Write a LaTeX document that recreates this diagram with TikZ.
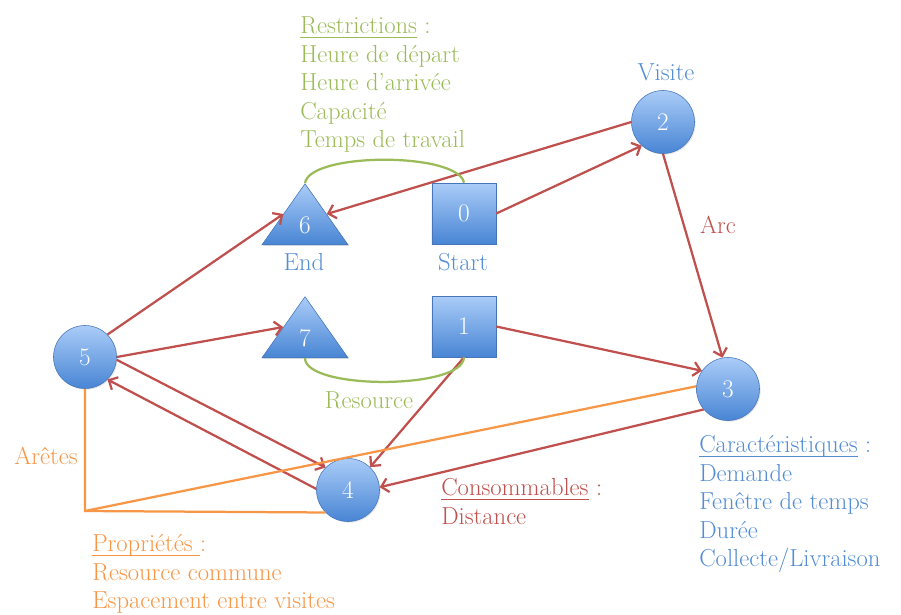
\documentclass[tikz,border=0pt]{standalone}
\usepackage{amsmath}
\usepackage{tikz}
\usetikzlibrary{shapes.geometric,arrows.meta,shadows}

\definecolor{vblue}{RGB}{84,141,212}
\definecolor{vred}{RGB}{192,80,77}
\definecolor{vgreen}{RGB}{155,187,89}
\definecolor{vorange}{RGB}{247,150,70}
\definecolor{ntop}{RGB}{170,204,248}
\definecolor{nbot}{RGB}{72,133,212}
\definecolor{nline}{RGB}{70,118,185}

\newcommand{\ulword}[1]{\underline{\smash{#1}}}

\begin{document}
\begin{tikzpicture}[x=0.025cm,y=-0.025cm,
  vertex/.style={circle,draw=nline,thin,top color=ntop,bottom color=nbot,minimum size=1.575cm,inner sep=0pt,text=white,font=\fontsize{18}{20}\selectfont,drop shadow={opacity=0.2,shadow xshift=0.8pt,shadow yshift=-0.8pt}},
  depot/.style={rectangle,draw=nline,thin,top color=ntop,bottom color=nbot,minimum width=1.6cm,minimum height=1.525cm,inner sep=0pt,text=white,font=\fontsize{18}{20}\selectfont,drop shadow={opacity=0.2,shadow xshift=0.8pt,shadow yshift=-0.8pt}},
  tri/.style={isosceles triangle,isosceles triangle stretches,shape border rotate=90,draw=nline,thin,top color=ntop,bottom color=nbot,minimum width=2.15cm,minimum height=1.525cm,inner sep=0pt,drop shadow={opacity=0.2,shadow xshift=0.8pt,shadow yshift=-0.8pt}},
  num/.style={text=white,inner sep=0pt,font=\fontsize{18}{20}\selectfont},
  arc/.style={vred,line width=1.6pt,-{Straight Barb[length=5pt,width=10pt]}},
  lbl/.style={inner sep=0pt,align=left,font=\fontsize{17.5}{20.2}\selectfont}]
\useasboundingbox (0,0) rectangle (901,614);

\node[vertex] (n2) at (663,122) {2};
\node[vertex] (n3) at (728,389) {3};
\node[vertex] (n5) at (85,357) {5};
\node[vertex] (n4) at (348,490) {4};
\node[depot] (n0) at (464,213.5) {0};
\node[depot] (n1) at (464,326.5) {1};
\node[tri,anchor=apex] (n6) at (305,183) {};
\node[tri,anchor=apex] (n7) at (305,296) {};
\node[num] (t6) at (305,225.5) {6};
\node[num] (t7) at (305,338.5) {7};

% arcs
\draw[arc] (n2.west) -- (n6.right side);
\draw[arc] (n0.east) -- (n2.228);
\draw[arc] (n2.south) -- (n3.100);
\draw[arc] (n1.east) -- (n3.145);
\draw[arc] (n3.220) -- (n4.5);
\draw[arc] (n1.south) -- (n4.46);
\draw[arc] (n5.45) -- (n6.left side);
\draw[arc] (n5.east) -- (n7.left side);
\draw[arc] (n5.355) -- (n4.135);
\draw[arc] (n4.178) -- (n5.315);

% resources
\draw[vgreen,line width=1.6pt] (n0.north) .. controls (458,152) and (310,152) .. (n6.apex);
\draw[vgreen,line width=1.6pt] (n1.south) .. controls (463,390) and (305,390) .. (n7.lower side);

% aretes
\coordinate (c5) at (85,511);
\draw[vorange,line width=1.6pt] (n5.south) -- (c5) -- (n4.225);
\draw[vorange,line width=1.6pt] (c5) -- (n3.175);

\node[lbl,text=vblue,anchor=base] (lvis) at (666,80) {Visite};
\node[lbl,text=vblue,anchor=base] (lend) at (304,270) {End};
\node[lbl,text=vblue,anchor=base] (lstart) at (463,270) {Start};
\node[lbl,text=vred,anchor=base] (larc) at (718,233) {Arc};
\node[lbl,text=vgreen,anchor=base] (lres) at (369,408) {Resource};
\node[lbl,text=vorange,anchor=base] (lare) at (46,464) {Arêtes};

\node[lbl,text=vgreen,anchor=north west] (lrestr) at (300,23) {\ulword{Restrictions} :\\Heure de départ\\Heure d’arrivée\\Capacité\\Temps de travail};
\node[lbl,text=vblue,anchor=north west] (lcar) at (699,442) {\ulword{Caractéristiques} :\\Demande\\Fenêtre de temps\\Durée\\Collecte/Livraison};
\node[lbl,text=vred,anchor=north west] (lcons) at (441,485) {\ulword{Consommables} :\\Distance};
\node[lbl,text=vorange,anchor=north west] (lprop) at (92,541) {\ulword{Propriétés\ }:\\Resource commune\\Espacement entre visites};
\end{tikzpicture}
\end{document}
